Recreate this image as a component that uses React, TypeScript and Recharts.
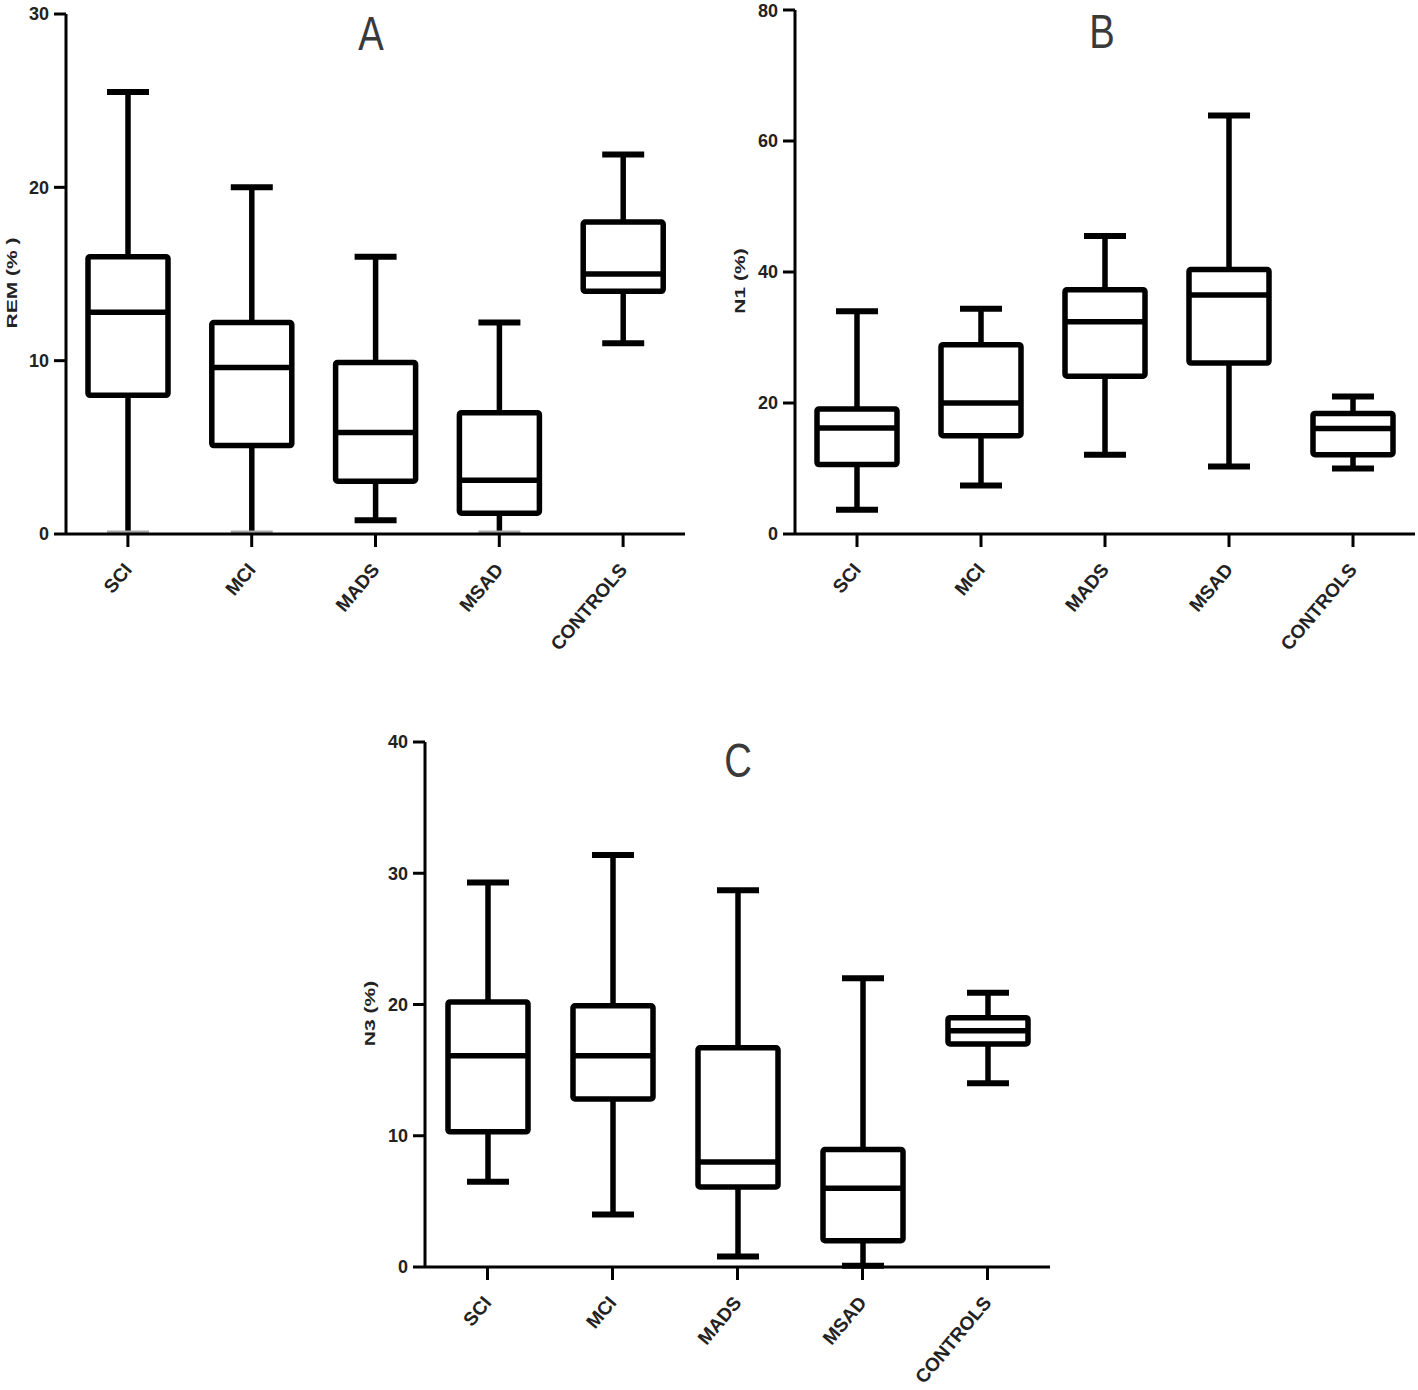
import React from "react"
import { ComposedChart, Bar, XAxis, YAxis, Customized } from "recharts"

const categories = ["SCI", "MCI", "MADS", "MSAD", "CONTROLS"]

// A: REM (%)
const remMin = [0, 0, 0.8, 0, 11.0]
const remQ1 = [8.0, 5.1, 3.05, 1.2, 14.0]
const remMedian = [12.8, 9.6, 5.85, 3.1, 15.0]
const remQ3 = [16.0, 12.2, 9.9, 7.0, 18.0]
const remMax = [25.5, 20.0, 16.0, 12.2, 21.9]
const remTicks = [0, 10, 20, 30]

// B: N1 (%)
const n1Min = [3.7, 7.4, 12.1, 10.3, 10.0]
const n1Q1 = [10.6, 15.0, 24.1, 26.1, 12.1]
const n1Median = [16.2, 20.0, 32.4, 36.5, 16.1]
const n1Q3 = [19.1, 28.9, 37.3, 40.4, 18.4]
const n1Max = [34.0, 34.4, 45.5, 63.9, 21.0]
const n1Ticks = [0, 20, 40, 60, 80]

// C: N3 (%)
const n3Min = [6.5, 4.0, 0.8, 0.1, 14.0]
const n3Q1 = [10.3, 12.8, 6.1, 2.0, 17.0]
const n3Median = [16.1, 16.1, 8.0, 6.0, 18.0]
const n3Q3 = [20.2, 19.9, 16.7, 8.95, 19.0]
const n3Max = [29.3, 31.4, 28.7, 22.0, 20.9]
const n3Ticks = [0, 10, 20, 30, 40]

const FONT = "'Liberation Sans', Arial, Helvetica, sans-serif"

type Row = {
  name: string
  range: [number, number]
  min: number
  q1: number
  median: number
  q3: number
  max: number
}

function buildRows(min: number[], q1: number[], median: number[], q3: number[], max: number[]): Row[] {
  return categories.map((name, i) => ({
    name,
    range: [min[i], max[i]],
    min: min[i],
    q1: q1[i],
    median: median[i],
    q3: q3[i],
    max: max[i],
  }))
}

// box drawn inside the [min, max] range bar that recharts positions for us
function BoxShape(props: any) {
  const { x, y, width, height, payload } = props
  if (!payload) return null
  const { min, q1, median, q3, max } = payload as Row
  const py = (v: number) => y + ((max - v) / (max - min)) * height
  const cx = x + width / 2
  const cap = 42
  // a cap sitting on the zero line is mostly hidden by the axis in the original
  const onAxis = min === 0
  return (
    <g stroke="#000" fill="none" strokeLinejoin="round">
      <line x1={cx} x2={cx} y1={py(max)} y2={py(q3)} strokeWidth={5.5} />
      <line x1={cx} x2={cx} y1={py(q1)} y2={py(min)} strokeWidth={5.5} />
      <line x1={cx - cap / 2} x2={cx + cap / 2} y1={py(max)} y2={py(max)} strokeWidth={6} />
      <line
        x1={cx - cap / 2}
        x2={cx + cap / 2}
        y1={onAxis ? py(min) - 2 : py(min)}
        y2={onAxis ? py(min) - 2 : py(min)}
        stroke={onAxis ? "#aaa" : "#000"}
        strokeWidth={onAxis ? 3 : 6}
      />
      <rect x={x} y={py(q3)} width={width} height={py(q1) - py(q3)} fill="#fff" strokeWidth={5.5} rx={2} />
      <line x1={x} x2={x + width} y1={py(median)} y2={py(median)} strokeWidth={5.5} />
    </g>
  )
}

function CategoryTick(props: any) {
  const { x, y, payload } = props
  const ay = y + 17
  return (
    <text
      x={x}
      y={ay}
      textAnchor="end"
      dominantBaseline="central"
      transform={`rotate(-50 ${x} ${ay})`}
      fontFamily={FONT}
      fontWeight="bold"
      fontSize={19}
      fill="#222"
    >
      {payload.value}
    </text>
  )
}

function axisTitle(text: string, dx: number) {
  return (props: any) => {
    const vb = props.viewBox || {}
    const x = (vb.x || 0) + dx
    const y = (vb.y || 0) + (vb.height || 0) / 2 + 9
    return (
      <text
        x={x}
        y={y}
        textAnchor="middle"
        dominantBaseline="central"
        transform={`rotate(-90 ${x} ${y}) translate(${x} ${y}) scale(1.4 1) translate(${-x} ${-y})`}
        fontFamily={FONT}
        fontWeight="bold"
        fontSize={15}
        fill="#222"
      >
        {text}
      </text>
    )
  }
}

function panelTitle(letter: string, cx: number, baseline: number) {
  return () => (
    <text
      x={cx}
      y={baseline}
      textAnchor="middle"
      transform={`translate(${cx} 0) scale(0.78 1) translate(${-cx} 0)`}
      fontFamily={FONT}
      fontSize={49}
      fill="#3a3a3a"
    >
      {letter}
    </text>
  )
}

type PanelProps = {
  rows: Row[]
  ticks: number[]
  yLabel: string
  labelDx: number
  title: string
  titleX: number
  titleY: number
  width: number
  height: number
  margin: { top: number; right: number; bottom: number; left: number }
  yAxisWidth: number
  xAxisHeight: number
}

function BoxPanel(p: PanelProps) {
  const top = p.ticks[p.ticks.length - 1]
  return (
    <ComposedChart width={p.width} height={p.height} data={p.rows} margin={p.margin}>
      <XAxis
        dataKey="name"
        height={p.xAxisHeight}
        interval={0}
        tickSize={13}
        tickMargin={2}
        axisLine={{ stroke: "#000", strokeWidth: 3 }}
        tickLine={{ stroke: "#000", strokeWidth: 3 }}
        tick={<CategoryTick />}
      />
      <YAxis
        type="number"
        domain={[0, top]}
        ticks={p.ticks}
        width={p.yAxisWidth}
        tickSize={12}
        tickMargin={5}
        axisLine={{ stroke: "#000", strokeWidth: 3 }}
        tickLine={{ stroke: "#000", strokeWidth: 3 }}
        tick={{ fill: "#222", fontSize: 18, fontWeight: "bold", fontFamily: FONT }}
        label={{ content: axisTitle(p.yLabel, p.labelDx) }}
      />
      <Bar dataKey="range" barSize={80} shape={<BoxShape />} isAnimationActive={false} />
      <Customized component={panelTitle(p.title, p.titleX, p.titleY)} />
    </ComposedChart>
  )
}

export default function App() {
  const remRows = buildRows(remMin, remQ1, remMedian, remQ3, remMax)
  const n1Rows = buildRows(n1Min, n1Q1, n1Median, n1Q3, n1Max)
  const n3Rows = buildRows(n3Min, n3Q1, n3Median, n3Q3, n3Max)

  return (
    <div style={{ position: "absolute", left: 0, top: 0, width: 1418, height: 1390, background: "#fff" }}>
      <div style={{ position: "absolute", left: 0, top: 0 }}>
        <BoxPanel
          rows={remRows}
          ticks={remTicks}
          yLabel="REM (% )"
          labelDx={12}
          title="A"
          titleX={371}
          titleY={50}
          width={700}
          height={660}
          margin={{ top: 14, right: 15, bottom: 0, left: 0 }}
          yAxisWidth={66}
          xAxisHeight={126}
        />
      </div>
      <div style={{ position: "absolute", left: 700, top: 0 }}>
        <BoxPanel
          rows={n1Rows}
          ticks={n1Ticks}
          yLabel="N1 (%)"
          labelDx={40}
          title="B"
          titleX={402}
          titleY={48}
          width={718}
          height={660}
          margin={{ top: 10, right: 3, bottom: 0, left: 0 }}
          yAxisWidth={95}
          xAxisHeight={126}
        />
      </div>
      <div style={{ position: "absolute", left: 360, top: 720 }}>
        <BoxPanel
          rows={n3Rows}
          ticks={n3Ticks}
          yLabel="N3 (%)"
          labelDx={10}
          title="C"
          titleX={378}
          titleY={57}
          width={700}
          height={670}
          margin={{ top: 22, right: 10, bottom: 0, left: 0 }}
          yAxisWidth={65}
          xAxisHeight={123}
        />
      </div>
    </div>
  )
}
